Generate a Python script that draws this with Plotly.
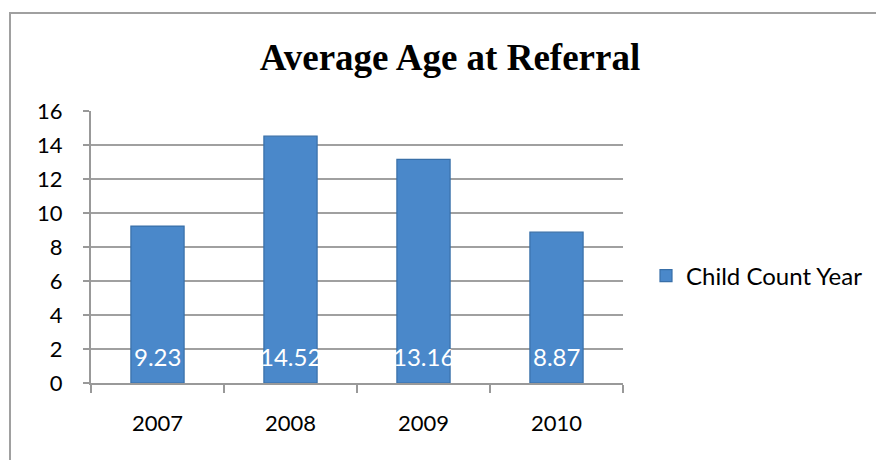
import plotly.graph_objects as go

years = ["2007", "2008", "2009", "2010"]
ages = [9.23, 14.52, 13.16, 8.87]
labels = ["9.23", "14.52", "13.16", "8.87"]
series_name = "Child Count Year"
title_text = "Average Age at Referral"
y_ticks = [0, 2, 4, 6, 8, 10, 12, 14, 16]

W, H = 876, 460
L, R, T, B = 91, 253, 111, 77
pw, ph = W - L - R, H - T - B
FONT = "Lato, Noto Sans, sans-serif"

def px_x(x):
    return (x - L) / pw

def px_y(y):
    return (H - B - y) / ph

fig = go.Figure()
fig.add_trace(go.Bar(
    x=years, y=ages, name=series_name,
    marker=dict(color="#4A88CA", line=dict(color="#386FA8", width=1.2)),
    showlegend=True,
))

# data labels drawn near the bottom of each bar (category index positions)
for i, lab in enumerate(labels):
    fig.add_annotation(x=i, y=1.55, xref="x", yref="y", text=lab, showarrow=False,
                       font=dict(family=FONT, size=24, color="white"),
                       xanchor="center", yanchor="middle")

fig.update_layout(
    width=W, height=H,
    margin=dict(l=L, r=R, t=T, b=B, autoexpand=False),
    paper_bgcolor="white", plot_bgcolor="white",
    bargap=0.6,
    title=dict(text="<b>" + title_text + "</b>", x=px_x(450), xref="paper", xanchor="center",
               y=1 - 57 / H, yanchor="middle",
               font=dict(family="Liberation Serif, Times New Roman, serif", size=37, color="black")),
    showlegend=True,
    legend=dict(x=px_x(646), y=px_y(276), xanchor="left", yanchor="middle",
                font=dict(family=FONT, size=24, color="black"),
                bgcolor="rgba(0,0,0,0)", itemwidth=30),
)

fig.update_xaxes(
    type="category", categoryarray=years, categoryorder="array",
    range=[-0.5, len(years) - 0.5],
    showgrid=False, showline=True, linecolor="#999999", linewidth=2,
    ticks="outside", tickson="boundaries", ticklen=8, tickcolor="#999999", tickwidth=2,
    tickfont=dict(family=FONT, size=22, color="black"),
    ticklabelstandoff=20,
)
fig.update_yaxes(
    range=[0, 16], tickvals=y_ticks, showgrid=True, gridcolor="#a0a0a0", gridwidth=2,
    showline=True, linecolor="#999999", linewidth=2, zeroline=False,
    ticks="outside", ticklen=6, tickcolor="#999999", tickwidth=2,
    tickfont=dict(family=FONT, size=22, color="black"),
    ticklabelstandoff=16,
)

fig.add_shape(type="rect", xref="paper", yref="paper",
              x0=px_x(10), x1=px_x(890), y0=px_y(480), y1=px_y(13),
              line=dict(color="#a0a0a0", width=2), fillcolor="rgba(0,0,0,0)", layer="below")

fig.write_html("out.html")
